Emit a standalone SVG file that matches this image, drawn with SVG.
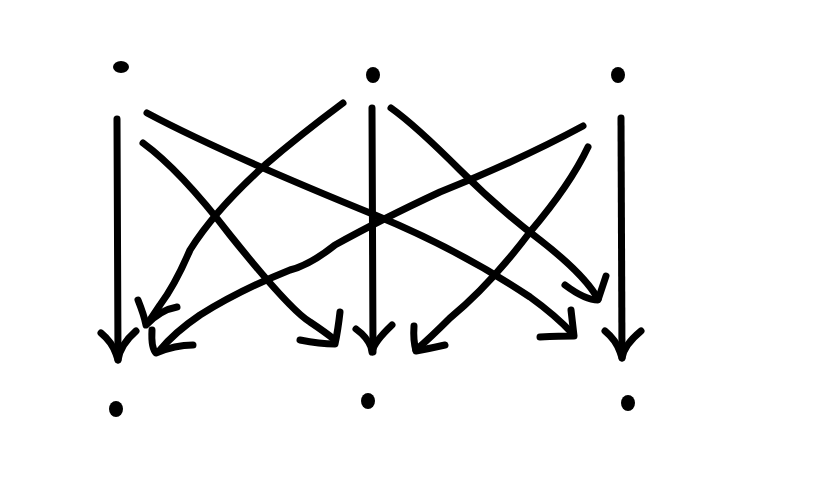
<svg xmlns="http://www.w3.org/2000/svg" width="815" height="486" viewBox="0 0 815 486">
<style>
.c{fill:none;stroke:#000;stroke-width:7;stroke-linecap:round;stroke-linejoin:round}
.d{fill:#000}
</style>
<rect width="815" height="486" fill="#fff"/>
<g id="top-left"><ellipse class="d" cx="121" cy="67" rx="8" ry="6"/></g>
<g id="top-mid"><ellipse class="d" cx="373" cy="75" rx="7" ry="8"/></g>
<g id="top-right"><ellipse class="d" cx="618" cy="75" rx="7" ry="8"/></g>
<g id="bot-left"><ellipse class="d" cx="116" cy="409" rx="7" ry="8"/></g>
<g id="bot-mid"><ellipse class="d" cx="368" cy="401" rx="7" ry="8"/></g>
<g id="bot-right"><ellipse class="d" cx="628" cy="403" rx="7" ry="8"/></g>
<g id="connectors">
<path class="c" d="M117 119 L118 360"/>
<path class="c" d="M101 333 Q112 342 116 354 Q118 360 118 360 Q120 345 136 331"/>
<path class="c" d="M372 108 L373 352"/>
<path class="c" d="M356 329 Q367 337 371 347 L372 352 Q374 342 392 325"/>
<path class="c" d="M621 118 L622 358"/>
<path class="c" d="M605 331 Q616 340 620 352 L622 358 Q624 345 641 331"/>
<path class="c" d="M147 113 Q220 152 375 215 Q460 250 530 297 Q555 315 573 334"/>
<path class="c" d="M540 337 Q560 336 574 336 L571 310"/>
<path class="c" d="M143 143 Q180 170 230 235 Q290 310 310 322 Q325 332 335 340"/>
<path class="c" d="M300 340 Q320 344 335 344 Q338 330 340 312"/>
<path class="c" d="M343 103 Q300 135 265 165 Q215 210 190 250 Q175 285 160 305 L150 320"/>
<path class="c" d="M138 300 Q144 315 146 325 Q160 310 177 307"/>
<path class="c" d="M583 126 Q520 160 440 192 Q380 220 335 245 Q310 265 290 270 Q240 290 200 315 Q175 332 160 350"/>
<path class="c" d="M152 330 Q151 348 156 353 Q175 345 193 345"/>
<path class="c" d="M391 108 Q415 125 460 170 Q500 210 540 240 Q585 275 598 299"/>
<path class="c" d="M565 285 Q585 300 598 300 Q603 285 606 276"/>
<path class="c" d="M588 147 Q570 185 530 232 Q490 285 450 318 Q430 338 416 350"/>
<path class="c" d="M414 326 Q413 340 416 351 Q432 348 445 345"/>
</g>
</svg>
